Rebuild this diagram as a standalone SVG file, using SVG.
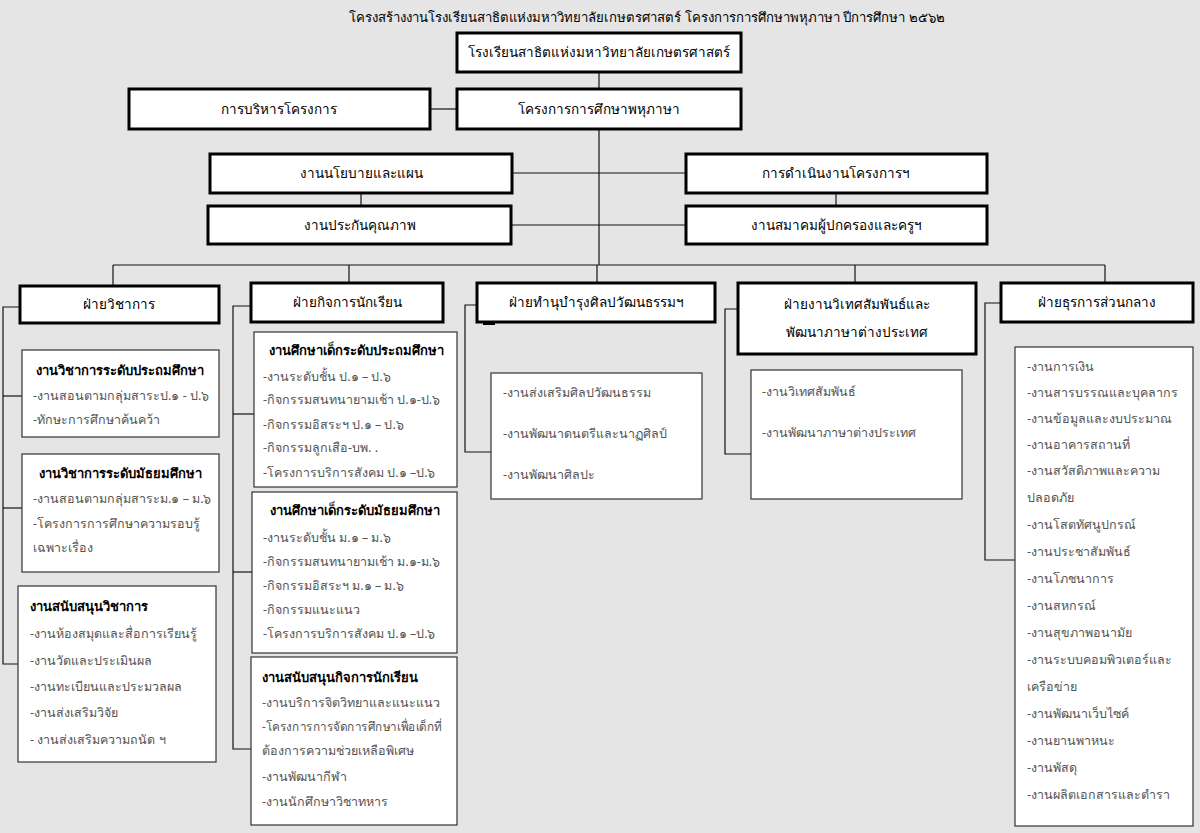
<svg xmlns="http://www.w3.org/2000/svg" width="1200" height="833" viewBox="0 0 1200 833">
<style>
text{font-family:"Noto Sans","DejaVu Sans","Liberation Sans",sans-serif;}
.bg{fill:#e5e5e5}
.hb{fill:#fff;stroke:#000;stroke-width:3}
.sb{fill:#fff;stroke:#333;stroke-width:1.2}
.ht{font-size:13.5px;fill:#000;text-anchor:middle}
.tt{font-size:13px;fill:#000;font-weight:bold}
.it{font-size:12.5px;fill:#555}
.c{text-anchor:middle}
.ln{fill:none;stroke:#111;stroke-width:1.2}
</style>
<rect class="bg" x="0" y="0" width="1200" height="833"/>
<text x="647" y="22" style="font-size:13.2px;fill:#000;text-anchor:middle">โครงสร้างงานโรงเรียนสาธิตแห่งมหาวิทยาลัยเกษตรศาสตร์ โครงการการศึกษาพหุภาษา ปีการศึกษา ๒๕๖๒</text>
<g id="connectors" class="ln">
<path d="M599,72 V89"/>
<path d="M430,109 H457"/>
<path d="M599,129 V265"/>
<path d="M512,173 H686"/>
<path d="M511,225 H686"/>
<path d="M361,193 V206"/>
<path d="M836,193 V206"/>
<path d="M113,265 H1105"/>
<path d="M113,265 V286"/>
<path d="M349,265 V283"/>
<path d="M597,265 V283"/>
<path d="M855,265 V283"/>
<path d="M1105,265 V283"/>
<path d="M20,307 H3 V664 H18"/>
<path d="M3,396 H22"/>
<path d="M3,508 H22"/>
<path d="M251,306 H233 V749 H251"/>
<path d="M233,414 H254"/>
<path d="M233,572 H252"/>
<path d="M477,305 H465 V452 H491"/>
<path d="M738,309 H725 V454 H751"/>
<path d="M1001,303 H985 V560 H1015"/>
</g>
<g id="school">
<rect class="hb" x="457" y="33" width="284" height="39"/>
<text class="ht" x="599" y="57">โรงเรียนสาธิตแห่งมหาวิทยาลัยเกษตรศาสตร์</text>
</g>
<g id="admin">
<rect class="hb" x="129" y="89" width="301" height="40"/>
<text class="ht" x="279" y="114">การบริหารโครงการ</text>
</g>
<g id="project">
<rect class="hb" x="457" y="89" width="284" height="40"/>
<text class="ht" x="599" y="114">โครงการการศึกษาพหุภาษา</text>
</g>
<g id="policy">
<rect class="hb" x="210" y="154" width="302" height="39"/>
<text class="ht" x="361" y="178">งานนโยบายและแผน</text>
</g>
<g id="operation">
<rect class="hb" x="686" y="154" width="301" height="39"/>
<text class="ht" x="836" y="178">การดำเนินงานโครงการฯ</text>
</g>
<g id="quality">
<rect class="hb" x="208" y="206" width="303" height="38"/>
<text class="ht" x="360" y="230">งานประกันคุณภาพ</text>
</g>
<g id="pta">
<rect class="hb" x="686" y="206" width="301" height="38"/>
<text class="ht" x="836" y="230">งานสมาคมผู้ปกครองและครูฯ</text>
</g>
<g id="academic">
<rect class="hb" x="20" y="286" width="199" height="37"/>
<text class="ht" x="119" y="309">ฝ่ายวิชาการ</text>
</g>
<g id="acad-primary">
<rect class="sb" x="22" y="350" width="197" height="87"/>
<text class="tt c" x="120" y="375">งานวิชาการระดับประถมศึกษา</text>
<text class="it" x="33" y="400">-งานสอนตามกลุ่มสาระป.๑ - ป.๖</text>
<text class="it" x="33" y="424">-ทักษะการศึกษาค้นคว้า</text>
</g>
<g id="acad-secondary">
<rect class="sb" x="22" y="454" width="197" height="118"/>
<text class="tt c" x="120" y="478">งานวิชาการระดับมัธยมศึกษา</text>
<text class="it" x="33" y="503">-งานสอนตามกลุ่มสาระม.๑ – ม.๖</text>
<text class="it" x="33" y="528">-โครงการการศึกษาความรอบรู้</text>
<text class="it" x="33" y="552">เฉพาะเรื่อง</text>
</g>
<g id="acad-support">
<rect class="sb" x="18" y="586" width="198" height="176"/>
<text class="tt" x="30" y="611">งานสนับสนุนวิชาการ</text>
<text class="it" x="30" y="638">-งานห้องสมุดและสื่อการเรียนรู้</text>
<text class="it" x="30" y="665">-งานวัดและประเมินผล</text>
<text class="it" x="30" y="691">-งานทะเบียนและประมวลผล</text>
<text class="it" x="30" y="717">-งานส่งเสริมวิจัย</text>
<text class="it" x="30" y="744"> - งานส่งเสริมความถนัด ฯ</text>
</g>
<g id="student">
<rect class="hb" x="251" y="283" width="192" height="39"/>
<text class="ht" x="347" y="307">ฝ่ายกิจการนักเรียน</text>
</g>
<g id="stu-primary">
<rect class="sb" x="254" y="332" width="203" height="155"/>
<text class="tt c" x="356" y="355">งานศึกษาเด็กระดับประถมศึกษา</text>
<text class="it" x="263" y="381">-งานระดับชั้น ป.๑ – ป.๖</text>
<text class="it" x="263" y="404">-กิจกรรมสนทนายามเช้า ป.๑-ป.๖</text>
<text class="it" x="263" y="429">-กิจกรรมอิสระฯ ป.๑ – ป.๖</text>
<text class="it" x="263" y="452">-กิจกรรมลูกเสือ-บพ. .</text>
<text class="it" x="263" y="477">-โครงการบริการสังคม ป.๑ –ป.๖</text>
</g>
<g id="stu-secondary">
<rect class="sb" x="252" y="492" width="205" height="161"/>
<text class="tt c" x="355" y="515">งานศึกษาเด็กระดับมัธยมศึกษา</text>
<text class="it" x="263" y="542">-งานระดับชั้น ม.๑ – ม.๖</text>
<text class="it" x="263" y="566">-กิจกรรมสนทนายามเช้า ม.๑-ม.๖</text>
<text class="it" x="263" y="590">-กิจกรรมอิสระฯ ม.๑ – ม.๖</text>
<text class="it" x="263" y="614">-กิจกรรมแนะแนว</text>
<text class="it" x="263" y="638">-โครงการบริการสังคม ป.๑ –ป.๖</text>
</g>
<g id="stu-support">
<rect class="sb" x="251" y="657" width="206" height="168"/>
<text class="tt" x="262" y="682">งานสนับสนุนกิจการนักเรียน</text>
<text class="it" x="262" y="707">-งานบริการจิตวิทยาและแนะแนว</text>
<text class="it" x="262" y="731" textLength="180" lengthAdjust="spacingAndGlyphs">-โครงการการจัดการศึกษาเพื่อเด็กที่</text>
<text class="it" x="262" y="755">ต้องการความช่วยเหลือพิเศษ</text>
<text class="it" x="262" y="781">-งานพัฒนากีฬา</text>
<text class="it" x="262" y="806">-งานนักศึกษาวิชาทหาร</text>
</g>
<g id="culture">
<rect class="hb" x="477" y="283" width="238" height="39"/>
<rect x="483" y="322" width="12" height="3" fill="#000"/>
<text class="ht" x="596" y="307">ฝ่ายทำนุบำรุงศิลปวัฒนธรรมฯ</text>
</g>
<g id="culture-items">
<rect class="sb" x="491" y="373" width="211" height="126"/>
<text class="it" x="503" y="397">-งานส่งเสริมศิลปวัฒนธรรม</text>
<text class="it" x="503" y="438">-งานพัฒนาดนตรีและนาฏศิลป์</text>
<text class="it" x="503" y="479">-งานพัฒนาศิลปะ</text>
</g>
<g id="foreign">
<rect class="hb" x="738" y="283" width="238" height="71"/>
<text class="ht" x="857" y="309">ฝ่ายงานวิเทศสัมพันธ์และ</text>
<text class="ht" x="857" y="337">พัฒนาภาษาต่างประเทศ</text>
</g>
<g id="foreign-items">
<rect class="sb" x="751" y="370" width="211" height="129"/>
<text class="it" x="762" y="396">-งานวิเทศสัมพันธ์</text>
<text class="it" x="762" y="437">-งานพัฒนาภาษาต่างประเทศ</text>
</g>
<g id="general">
<rect class="hb" x="1001" y="283" width="192" height="39"/>
<text class="ht" x="1097" y="307">ฝ่ายธุรการส่วนกลาง</text>
</g>
<g id="general-items">
<rect class="sb" x="1015" y="347" width="178" height="479"/>
<text class="it" x="1027" y="371">-งานการเงิน</text>
<text class="it" x="1027" y="397">-งานสารบรรณและบุคลากร</text>
<text class="it" x="1027" y="423">-งานข้อมูลและงบประมาณ</text>
<text class="it" x="1027" y="449">-งานอาคารสถานที่</text>
<text class="it" x="1027" y="475">-งานสวัสดิภาพและความ</text>
<text class="it" x="1027" y="502">ปลอดภัย</text>
<text class="it" x="1027" y="529">-งานโสตทัศนูปกรณ์</text>
<text class="it" x="1027" y="556">-งานประชาสัมพันธ์</text>
<text class="it" x="1027" y="583">-งานโภชนาการ</text>
<text class="it" x="1027" y="610">-งานสหกรณ์</text>
<text class="it" x="1027" y="637">-งานสุขภาพอนามัย</text>
<text class="it" x="1027" y="664">-งานระบบคอมพิวเตอร์และ</text>
<text class="it" x="1027" y="691">เครือข่าย</text>
<text class="it" x="1027" y="718">-งานพัฒนาเว็บไซค์</text>
<text class="it" x="1027" y="745">-งานยานพาหนะ</text>
<text class="it" x="1027" y="772">-งานพัสดุ</text>
<text class="it" x="1027" y="799">-งานผลิตเอกสารและตำรา</text>
</g>
</svg>
